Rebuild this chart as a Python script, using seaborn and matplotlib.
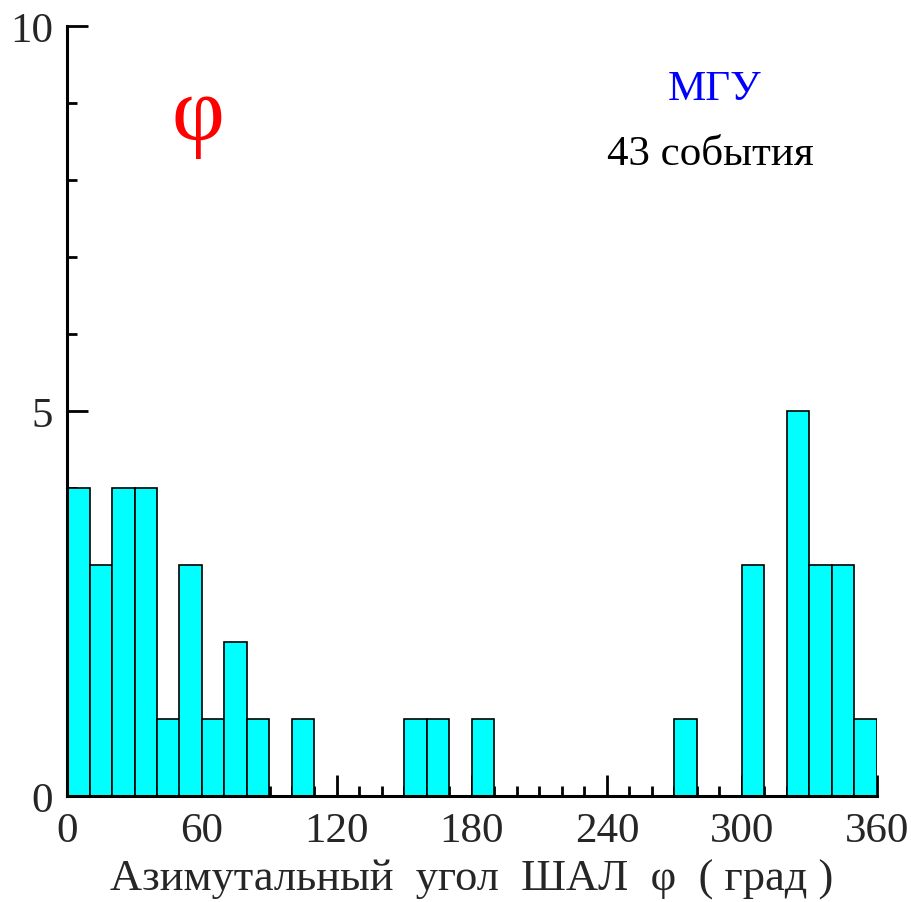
import numpy as np
import matplotlib
matplotlib.use("Agg")
import matplotlib.pyplot as plt
from matplotlib.ticker import MultipleLocator
import seaborn as sns

# data: counts per 10-degree azimuth bin (0..360)
bin_edges = list(range(0, 361, 10))
counts = [4, 3, 4, 4, 1, 3, 1, 2, 1, 0,
          1, 0, 0, 0, 0, 1, 1, 0, 1, 0,
          0, 0, 0, 0, 0, 0, 0, 1, 0, 0,
          3, 0, 5, 3, 3, 1]
bin_centers = [e + 5 for e in bin_edges[:-1]]
xticks = [0, 60, 120, 180, 240, 300, 360]
yticks = [0, 5, 10]
xlabel = "Азимутальный  угол  ШАЛ  φ  ( град )"

sns.set_style("white")
plt.rcParams['font.family'] = ['Liberation Serif', 'DejaVu Serif']

fig = plt.figure(figsize=(9.12, 9.03), dpi=100)
ax = fig.add_axes([67/912, 1-797/903, 810/912, 770/903])

sns.histplot(x=bin_centers, weights=counts, bins=bin_edges, ax=ax,
             color="#00FFFF", alpha=1, edgecolor="black", linewidth=1.2)

ax.set_xlim(0, 360)
ax.set_ylim(0, 10)
ax.set_xticks(xticks)
ax.set_yticks(yticks)
ax.xaxis.set_minor_locator(MultipleLocator(10))
ax.yaxis.set_minor_locator(MultipleLocator(1))
ax.tick_params(axis='both', which='major', direction='in', length=15, width=2,
               labelsize=31, color='black', pad=11)
ax.tick_params(axis='both', which='minor', direction='in', length=7.5, width=2,
               color='black')
ax.tick_params(axis='x', which='both', top=False, bottom=True)
ax.tick_params(axis='y', which='both', left=True, right=False, pad=10)
for s in ['top', 'right']:
    ax.spines[s].set_visible(False)
for s in ['left', 'bottom']:
    ax.spines[s].set_linewidth(2.2)
    ax.spines[s].set_color('black')
ax.set_xlabel(xlabel, fontsize=32, labelpad=6)
ax.set_ylabel("")

ax.text(58, 8.82, "φ", color="red", fontsize=66, ha="center", va="center")
ax.text(288, 9.18, "МГУ", color="blue", fontsize=31, ha="center", va="center")
ax.text(286, 8.34, "43 события", color="black", fontsize=31, ha="center", va="center")

fig.savefig("out.png", dpi=100)
